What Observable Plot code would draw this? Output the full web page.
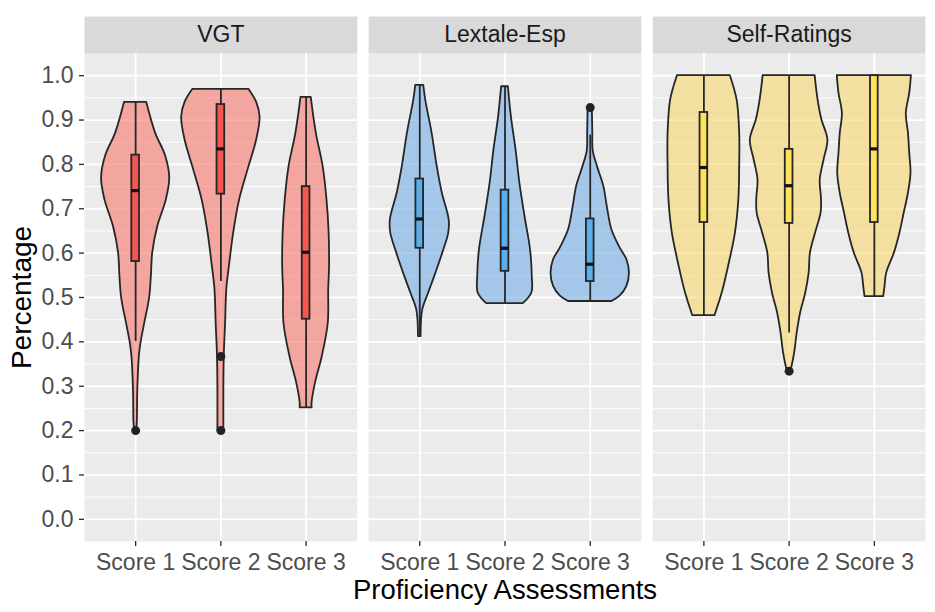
<!DOCTYPE html>
<html><head><meta charset="utf-8">
<script src="https://cdn.jsdelivr.net/npm/d3@7"></script>
<script src="https://cdn.jsdelivr.net/npm/@observablehq/plot@0.6"></script>
<style>
body{margin:0;background:#fff;font-family:"Liberation Sans",Arial,sans-serif;}
</style></head><body>
<div id="chart"></div>
<script>
// Facets and categories
const panels = ["VGT", "Lextale-Esp", "Self-Ratings"];
const scores = ["Score 1", "Score 2", "Score 3"];
const majorTicks = [0, 0.1, 0.2, 0.3, 0.4, 0.5, 0.6, 0.7, 0.8, 0.9, 1.0];
const minorTicks = [0.05, 0.15, 0.25, 0.35, 0.45, 0.55, 0.65, 0.75, 0.85, 0.95];
const violinFills = ["#F8766D", "#74AEE8", "#F8D76E"];
const boxFills = ["#F4574F", "#5AAEEB", "#FFE15A"];

// Violin profiles: [value, half-width in category units]
const vgtViolins = [
  [[0.20,0.012],[0.22,0.02],[0.29,0.025],[0.37,0.045],[0.40,0.065],[0.44,0.105],[0.50,0.165],[0.55,0.185],[0.60,0.20],[0.66,0.26],[0.72,0.36],[0.77,0.40],[0.82,0.35],[0.87,0.235],[0.94,0.13]],
  [[0.20,0.035],[0.30,0.035],[0.37,0.04],[0.44,0.055],[0.52,0.07],[0.57,0.10],[0.645,0.15],[0.72,0.22],[0.795,0.33],[0.855,0.42],[0.907,0.46],[0.94,0.42],[0.969,0.33]],
  [[0.251,0.07],[0.263,0.07],[0.307,0.11],[0.367,0.19],[0.442,0.26],[0.517,0.265],[0.57,0.275],[0.645,0.27],[0.72,0.245],[0.795,0.20],[0.87,0.12],[0.951,0.06]]
];
const lexViolins = [
  [[0.412,0.015],[0.472,0.035],[0.51,0.105],[0.555,0.19],[0.60,0.27],[0.645,0.34],[0.675,0.345],[0.735,0.265],[0.795,0.205],[0.87,0.145],[0.945,0.07],[0.978,0.047]],
  [[0.486,0.215],[0.51,0.315],[0.547,0.32],[0.607,0.30],[0.682,0.235],[0.757,0.175],[0.832,0.13],[0.907,0.075],[0.975,0.04]],
  [[0.491,0.255],[0.503,0.35],[0.525,0.43],[0.555,0.46],[0.585,0.43],[0.612,0.35],[0.652,0.255],[0.705,0.20],[0.75,0.16],[0.795,0.085],[0.83,0.035],[0.87,0.03],[0.928,0.025]]
];
const srViolins = [
  [[0.459,0.13],[0.51,0.215],[0.57,0.29],[0.645,0.37],[0.72,0.41],[0.795,0.42],[0.87,0.42],[0.945,0.39],[1.0,0.31]],
  [[0.334,0.02],[0.345,0.035],[0.375,0.065],[0.42,0.095],[0.465,0.135],[0.51,0.195],[0.555,0.235],[0.60,0.25],[0.645,0.31],[0.69,0.375],[0.72,0.38],[0.765,0.365],[0.81,0.41],[0.855,0.455],[0.90,0.385],[0.945,0.34],[1.0,0.305]],
  [[0.502,0.11],[0.525,0.125],[0.555,0.145],[0.60,0.235],[0.645,0.30],[0.69,0.35],[0.735,0.40],[0.78,0.43],[0.825,0.415],[0.87,0.40],[0.915,0.375],[0.96,0.415],[1.0,0.435]]
];

// Box stats: [lower whisker, Q1, median, Q3, upper whisker]
const vgtBoxes = [[0.401,0.581,0.741,0.821,0.94],[0.536,0.733,0.835,0.935,0.969],[0.251,0.451,0.602,0.75,0.951]];
const lexBoxes = [[0.412,0.611,0.677,0.767,0.978],[0.486,0.559,0.611,0.742,0.975],[0.491,0.536,0.575,0.677,0.866]];
const srBoxes  = [[0.459,0.669,0.793,0.917,1.0],[0.42,0.667,0.752,0.834,1.0],[0.502,0.669,0.835,1.0,1.0]];

// Outliers
const vgtOutliers = [[0.2],[0.367,0.2],[]];
const lexOutliers = [[],[],[0.928]];
const srOutliers  = [[],[0.334],[]];

const violinSets = [vgtViolins, lexViolins, srViolins];
const boxSets = [vgtBoxes, lexBoxes, srBoxes];
const outlierSets = [vgtOutliers, lexOutliers, srOutliers];

const violinRows = [], boxRows = [], outlierRows = [];
panels.forEach((p, pi) => {
  scores.forEach((s, si) => {
    const pos = si + 1;
    violinSets[pi][si].forEach(([v, w]) => violinRows.push({panel: p, key: p + s, pos, y: v, w, fill: violinFills[pi]}));
    const [lo, q1, med, q3, hi] = boxSets[pi][si];
    boxRows.push({panel: p, pos, lo, q1, med, q3, hi, fill: boxFills[pi]});
    outlierSets[pi][si].forEach(v => outlierRows.push({panel: p, pos, v}));
  });
});

const H = 612, mTop = 53, mBottom = 71;
const boxHalf = 0.045;
const ink = "#262626";

const chart = Plot.plot({
  width: 935,
  height: H,
  marginLeft: 84,
  marginRight: 10,
  marginTop: mTop,
  marginBottom: mBottom,
  style: {fontFamily: "'Liberation Sans', Arial, sans-serif", background: "white", color: "#1A1A1A"},
  fx: {domain: panels, paddingInner: 0.04, paddingOuter: 0, round: false, axis: null},
  x: {domain: [0.4, 3.6]},
  y: {domain: [-0.05, 1.05]},
  color: {type: "identity"},
  marks: [
    Plot.frame({fill: "#EBEBEB", stroke: "none"}),
    Plot.frame({fill: "#D9D9D9", stroke: "none", insetTop: -37, insetBottom: H - mTop - mBottom}),
    Plot.text(panels, {fx: d => d, text: d => d, frameAnchor: "top", lineAnchor: "middle", dy: -18.5, fontSize: 23, fill: "#1A1A1A"}),
    Plot.gridY(minorTicks, {stroke: "white", strokeOpacity: 1, strokeWidth: 0.9}),
    Plot.gridY(majorTicks, {stroke: "white", strokeOpacity: 1, strokeWidth: 1.8}),
    Plot.gridX([1, 2, 3], {stroke: "white", strokeOpacity: 1, strokeWidth: 1.8}),
    Plot.areaX(violinRows, {fx: "panel", z: "key", y: "y", x1: d => d.pos - d.w, x2: d => d.pos + d.w,
      fill: "fill", fillOpacity: 0.6, stroke: ink, strokeWidth: 1.8, curve: "catmull-rom"}),
    Plot.ruleX(boxRows, {fx: "panel", x: "pos", y1: "lo", y2: "q1", stroke: ink, strokeWidth: 1.8}),
    Plot.ruleX(boxRows, {fx: "panel", x: "pos", y1: "q3", y2: "hi", stroke: ink, strokeWidth: 1.8}),
    Plot.rect(boxRows, {fx: "panel", x1: d => d.pos - boxHalf, x2: d => d.pos + boxHalf, y1: "q1", y2: "q3",
      fill: "fill", stroke: ink, strokeWidth: 1.8}),
    Plot.ruleY(boxRows, {fx: "panel", y: "med", x1: d => d.pos - boxHalf, x2: d => d.pos + boxHalf, stroke: "#111", strokeWidth: 3.2}),
    Plot.dot(outlierRows, {fx: "panel", x: "pos", y: "v", r: 4.5, fill: "#222", stroke: "none"}),
    Plot.axisY({ticks: majorTicks, tickFormat: d3.format(".1f"), fontSize: 23, tickSize: 5, tickPadding: 6,
      stroke: ink, strokeWidth: 1.3, fill: "#4D4D4D", label: null}),
    Plot.axisX({ticks: [1, 2, 3], tickFormat: d => scores[d - 1], fontSize: 23, tickSize: 5, tickPadding: 7,
      stroke: ink, strokeWidth: 1.3, fill: "#4D4D4D", label: null}),
    Plot.text(["Percentage"], {fx: () => panels[0], text: d => d, frameAnchor: "left", rotate: -90,
      lineAnchor: "middle", textAnchor: "middle", dx: -62, fontSize: 28, fill: "#000"}),
    Plot.text(["Proficiency Assessments"], {fx: () => panels[1], text: d => d, frameAnchor: "bottom",
      lineAnchor: "middle", dy: 49, fontSize: 27.5, fill: "#000"})
  ]
});
document.getElementById("chart").appendChild(chart);
</script>
</body></html>
